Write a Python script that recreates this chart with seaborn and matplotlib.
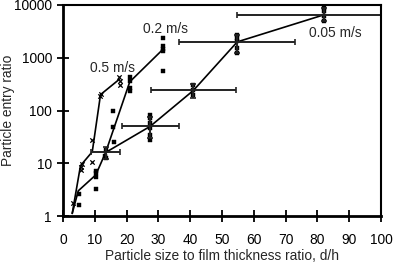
import matplotlib
matplotlib.use("Agg")
import matplotlib.pyplot as plt
import seaborn as sns
import pandas as pd
import numpy as np

# ---- mean lines ----
x_05 = [2.9, 5.5, 9.2, 11.8, 17.7]
y_05 = [1.12, 9.0, 16.5, 200, 390]
x_02 = [2.9, 4.8, 10.3, 13.4, 21.0, 31.3]
y_02 = [1.12, 3.0, 6.0, 16.0, 350, 1420]
x_005 = [13.4, 27.4, 41.0, 54.8, 82.0]
y_005 = [16.0, 50, 240, 2000, 6500]

# ---- error bars (0.05 m/s) ----
xerr_005 = [4.5, 9.0, 13.4, 18.3, 27.3]
ylo_005 = [12.0, 30, 175, 1230, 4980]
yhi_005 = [20.0, 76, 315, 2700, 8800]

# ---- individual measurements ----
px_05 = [3.0, 5.6, 5.8, 6.0, 9.0, 9.0, 11.7, 11.9, 17.5, 17.8, 18.0]
py_05 = [1.8, 7.5, 8.5, 9.5, 27.5, 10.7, 190, 210, 440, 355, 305]
px_02 = [5.0, 4.9, 10.3, 10.3, 10.3, 10.4, 15.8, 15.8, 15.9, 21.0, 21.0, 21.0, 21.0, 31.3, 31.3, 31.3, 31.3, 31.5]
py_02 = [1.6, 2.6, 7.2, 6.5, 5.6, 3.2, 98, 49.6, 25.7, 440, 355, 270, 230, 2400, 1640, 1320, 1480, 550]
px_005 = [13.2, 13.4, 13.6, 27.4, 27.4, 27.4, 27.4, 27.4, 27.4, 41, 41, 41, 54.8, 54.8, 54.8, 54.8, 54.8, 82, 82, 82, 82]
py_005 = [14, 18, 12.5, 82, 72, 57, 46, 34, 27.6, 307, 245, 196, 2700, 2360, 2040, 1530, 1230, 8800, 7600, 6300, 4980]

labels = ["0.5 m/s", "0.2 m/s", "0.05 m/s"]
label_x = [15.5, 32.2, 85.5]
label_y = [640, 3500, 2950]

x_ticks = list(range(0, 101, 10))
y_ticks = [1, 10, 100, 1000, 10000]
y_tick_labels = ["1", "10", "100", "1000", "10000"]

sns.set_style("ticks")
plt.rcParams['font.family'] = ['Liberation Sans', 'DejaVu Sans']

FS = 9.9

fig = plt.figure(figsize=(3.96, 2.66), dpi=100)
ax = fig.add_axes([63/396, 1-216/266, (381-63)/396, (216-5)/266])

lines = pd.concat([
    pd.DataFrame({"x": x_05, "y": y_05, "s": labels[0]}),
    pd.DataFrame({"x": x_02, "y": y_02, "s": labels[1]}),
    pd.DataFrame({"x": x_005, "y": y_005, "s": labels[2]}),
])
sns.lineplot(data=lines, x="x", y="y", units="s", estimator=None, sort=False,
             color="black", lw=1.2, ax=ax, legend=False)

ax.errorbar(x_005, y_005, xerr=xerr_005,
            yerr=[np.array(y_005) - np.array(ylo_005), np.array(yhi_005) - np.array(y_005)],
            fmt="none", ecolor="#222222", elinewidth=1.4, capsize=2, capthick=1.2)

pts_sq = pd.DataFrame({"x": px_02 + px_005, "y": py_02 + py_005})
sns.scatterplot(data=pts_sq, x="x", y="y", marker="s", s=5, color="black",
                edgecolor="black", linewidth=0.3, ax=ax)
pts_x = pd.DataFrame({"x": px_05, "y": py_05})
sns.scatterplot(data=pts_x, x="x", y="y", marker="x", s=10, color="black",
                linewidth=0.9, ax=ax)

for t, tx, ty in zip(labels, label_x, label_y):
    ax.text(tx, ty, t, ha="center", va="center", fontsize=FS)

ax.set_yscale("log")
ax.set_xlim(0, 100)
ax.set_ylim(1, 10000)
ax.set_xticks(x_ticks)
ax.set_xticklabels([str(v) for v in x_ticks], fontsize=FS)
ax.set_yticks(y_ticks)
ax.set_yticklabels(y_tick_labels, fontsize=FS)
ax.yaxis.set_minor_locator(matplotlib.ticker.NullLocator())
ax.tick_params(axis="both", direction="inout", length=8, width=1.3, colors="black")
ax.tick_params(axis="x", pad=8)
ax.tick_params(axis="y", pad=4)
ax.set_xlabel("Particle size to film thickness ratio, d/h", fontsize=FS, labelpad=2)
ax.set_ylabel("Particle entry ratio", fontsize=FS)
ax.yaxis.set_label_coords(-0.152, 0.5)

for side in ["left", "bottom"]:
    ax.spines[side].set_linewidth(2.0)
for side in ["top", "right"]:
    ax.spines[side].set_visible(True)
    ax.spines[side].set_linewidth(1.5)
for sp in ax.spines.values():
    sp.set_color("black")

fig.savefig("out.png", dpi=100)
